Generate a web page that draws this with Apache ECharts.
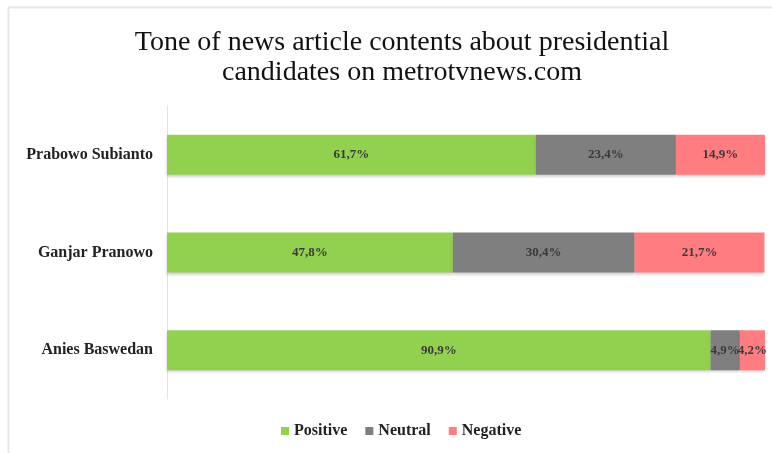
<!DOCTYPE html>
<html>
<head>
<meta charset="utf-8">
<script src="https://cdn.jsdelivr.net/npm/echarts@6/dist/echarts.min.js"></script>
<style>
  html, body { margin: 0; padding: 0; background: #fff; }
  #chart { width: 772px; height: 453px; }
</style>
</head>
<body>
<div id="chart"></div>
<script>
// Candidates, listed bottom-to-top as the category axis draws them
const candidates = ['Anies Baswedan', 'Ganjar Pranowo', 'Prabowo Subianto'];
// Share of articles by tone (%)
const positive = [90.9, 47.8, 61.7];
const neutral = [4.9, 30.4, 23.4];
const negative = [4.2, 21.7, 14.9];

const serif = '"Liberation Serif", "DejaVu Serif", serif';
const fmt = p => p.value.toFixed(1).replace('.', ',') + '%';

function tone(name, data, color) {
  return {
    name: name,
    type: 'bar',
    stack: 'tone',
    data: data,
    barWidth: 40,
    itemStyle: {
      color: color,
      shadowColor: 'rgba(0,0,0,0.22)',
      shadowBlur: 3,
      shadowOffsetY: 2
    },
    label: {
      show: true,
      position: 'inside',
      formatter: fmt,
      fontFamily: serif,
      fontWeight: 'bold',
      fontSize: 13,
      color: '#3a3a3a'
    }
  };
}

const chart = echarts.init(document.getElementById('chart'), null, { renderer: 'canvas' });
chart.setOption({
  backgroundColor: '#fff',
  animation: false,
  title: {
    text: 'Tone of news article contents about presidential\ncandidates on metrotvnews.com',
    left: 397,
    textAlign: 'center',
    top: 23,
    textStyle: {
      fontFamily: serif,
      fontWeight: 'normal',
      fontSize: 28,
      lineHeight: 30,
      color: '#111'
    }
  },
  legend: {
    bottom: 9,
    left: 276,
    itemWidth: 8,
    itemHeight: 8,
    itemGap: 18,
    icon: 'rect',
    textStyle: { fontFamily: serif, fontWeight: 'bold', fontSize: 16, color: '#222' },
    data: ['Positive', 'Neutral', 'Negative']
  },
  grid: { left: 167, right: 7, top: 106, bottom: 54, containLabel: false },
  xAxis: {
    type: 'value',
    min: 0,
    max: 100,
    show: false
  },
  yAxis: {
    type: 'category',
    data: candidates,
    axisTick: { show: false },
    axisLine: { show: true, lineStyle: { color: '#dfe4ec', width: 1 } },
    axisLabel: {
      fontFamily: serif,
      fontWeight: 'bold',
      fontSize: 16,
      color: '#222',
      margin: 14
    }
  },
  graphic: [
    { type: 'line', shape: { x1: 8, y1: 7.5, x2: 772, y2: 7.5 }, style: { stroke: '#e3e7ee', lineWidth: 2 } },
    { type: 'line', shape: { x1: 8.5, y1: 7, x2: 8.5, y2: 453 }, style: { stroke: '#e3e7ee', lineWidth: 2 } }
  ],
  series: [
    tone('Positive', positive, '#92d050'),
    tone('Neutral', neutral, '#7f7f7f'),
    tone('Negative', negative, '#ff7c80')
  ]
});
</script>
</body>
</html>
